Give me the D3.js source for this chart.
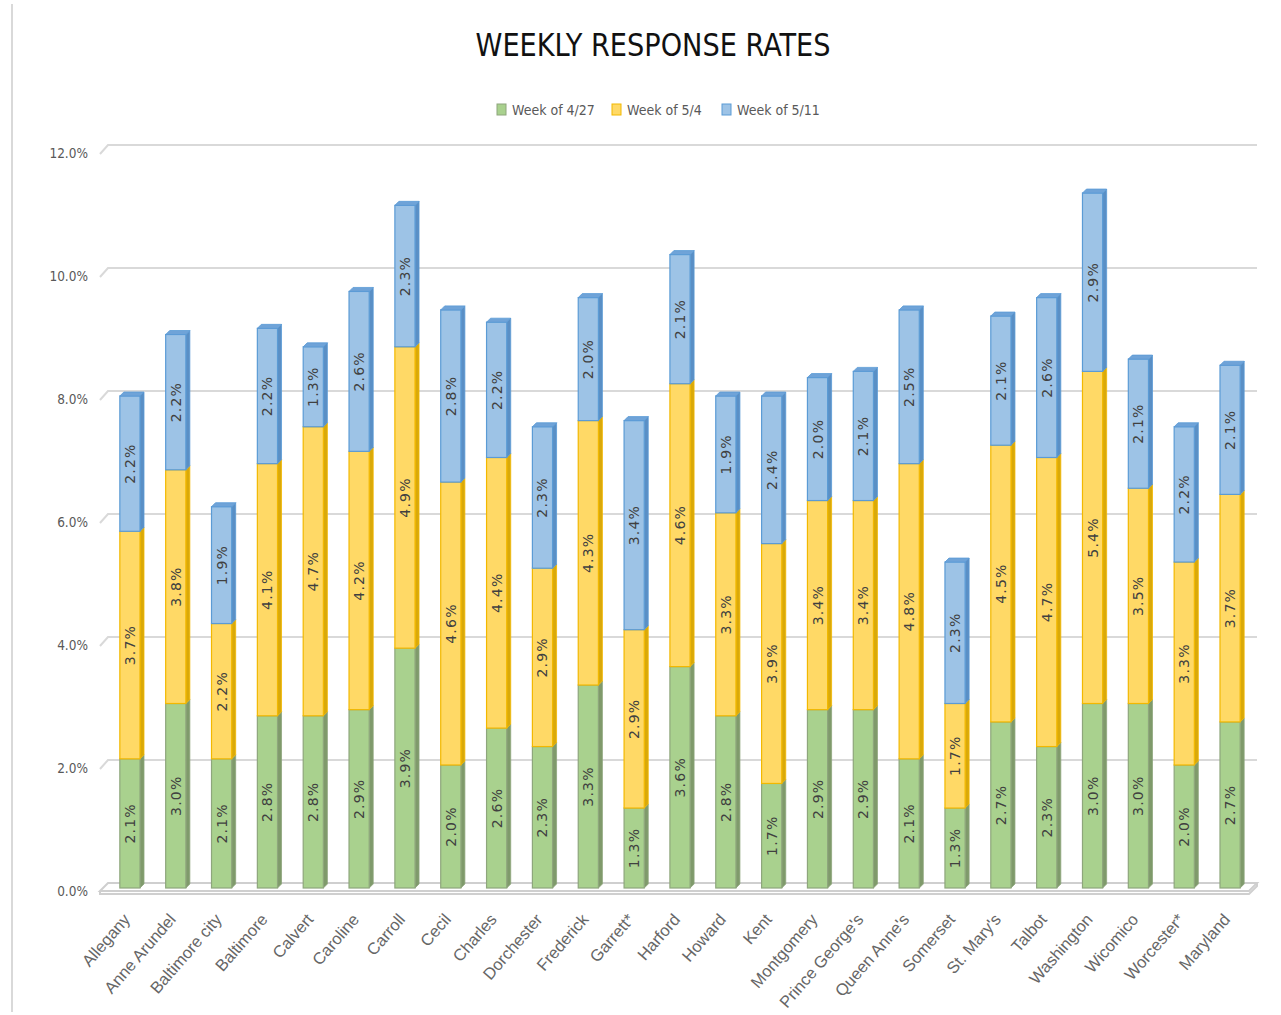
<!DOCTYPE html>
<html>
<head>
<meta charset="utf-8">
<script src="https://cdn.jsdelivr.net/npm/d3@7"></script>
<style>
  body { margin: 0; background: #fff; }
  svg { display: block; }
</style>
</head>
<body>
<svg width="1281" height="1015"></svg>
<script>
// data
var counties = ["Allegany", "Anne Arundel", "Baltimore city", "Baltimore", "Calvert", "Caroline",
  "Carroll", "Cecil", "Charles", "Dorchester", "Frederick", "Garrett*", "Harford", "Howard",
  "Kent", "Montgomery", "Prince George's", "Queen Anne's", "Somerset", "St. Mary's", "Talbot",
  "Washington", "Wicomico", "Worcester*", "Maryland"];
var week427 = [2.1, 3.0, 2.1, 2.8, 2.8, 2.9, 3.9, 2.0, 2.6, 2.3, 3.3, 1.3, 3.6, 2.8, 1.7, 2.9, 2.9, 2.1, 1.3, 2.7, 2.3, 3.0, 3.0, 2.0, 2.7];
var week54  = [3.7, 3.8, 2.2, 4.1, 4.7, 4.2, 4.9, 4.6, 4.4, 2.9, 4.3, 2.9, 4.6, 3.3, 3.9, 3.4, 3.4, 4.8, 1.7, 4.5, 4.7, 5.4, 3.5, 3.3, 3.7];
var week511 = [2.2, 2.2, 1.9, 2.2, 1.3, 2.6, 2.3, 2.8, 2.2, 2.3, 2.0, 3.4, 2.1, 1.9, 2.4, 2.0, 2.1, 2.5, 2.3, 2.1, 2.6, 2.9, 2.1, 2.2, 2.1];
var seriesNames = ["Week of 4/27", "Week of 5/4", "Week of 5/11"];
var yTicks = [0, 2, 4, 6, 8, 10, 12];

var narrow = '"Liberation Sans Narrow", "DejaVu Sans Condensed", sans-serif';
var colors = [
  {face: "#a9d18e", edge: "#8ea67c", side: "#7f9a6b", top: "#98bd80"},
  {face: "#ffd966", edge: "#f2b800", side: "#d9a90a", top: "#f5c84a"},
  {face: "#9dc3e6", edge: "#5b9bd5", side: "#5a8fc5", top: "#6fa3d8"}
];

var svg = d3.select("svg");

// table for the stack
var table = counties.map(function(c, i) {
  return {county: c, s0: week427[i], s1: week54[i], s2: week511[i]};
});
var stack = d3.stack().keys(["s0", "s1", "s2"])(table);

var xScale = d3.scaleBand().domain(counties).range([104, 1250]).paddingInner(0.56).paddingOuter(0.28);
var yScale = d3.scaleLinear().domain([0, 12]).range([891, 153]);

var depth = 8;     // back wall offset
var bd = 4;        // bar depth

// outer left border
svg.append("line")
  .attr("x1", 12).attr("x2", 12).attr("y1", 4).attr("y2", 1012)
  .attr("stroke", "#d9d9d9").attr("stroke-width", 2);

// title
svg.append("text")
  .attr("x", 653).attr("y", 56)
  .attr("text-anchor", "middle")
  .attr("font-family", narrow)
  .attr("font-size", 32)
  .attr("textLength", 355)
  .attr("lengthAdjust", "spacingAndGlyphs")
  .attr("fill", "#111")
  .text("WEEKLY RESPONSE RATES");

// legend
var legX = [497, 612, 722];
var leg = svg.selectAll("g.legend")
  .data(seriesNames)
  .enter().append("g")
  .attr("class", "legend")
  .attr("transform", function(d, i) { return "translate(" + legX[i] + ",104)"; });
leg.append("rect")
  .attr("width", 9).attr("height", 11)
  .attr("fill", function(d, i) { return colors[i].face; })
  .attr("stroke", function(d, i) { return colors[i].edge; });
leg.append("text")
  .attr("x", 15).attr("y", 11)
  .attr("font-family", narrow)
  .attr("font-size", 14)
  .attr("fill", "#595959")
  .text(function(d) { return d; });

// gridlines (back wall)
var x0 = 100, x1 = 1249;
svg.selectAll("path.grid")
  .data(yTicks.filter(function(t) { return t > 0; }))
  .enter().append("path")
  .attr("class", "grid")
  .attr("d", function(t) {
    var y = yScale(t);
    return "M" + x0 + "," + (y + 1) + "L" + (x0 + depth) + "," + (y - depth) + "H" + (x1 + depth);
  })
  .attr("fill", "none")
  .attr("stroke", "#d9d9d9")
  .attr("stroke-width", 2);

// floor
var yf = yScale(0);
svg.append("path")
  .attr("d", "M" + x0 + "," + yf + "L" + (x0 + depth) + "," + (yf - depth) + "H" + (x1 + depth) +
    "L" + x1 + "," + yf + "Z")
  .attr("fill", "#fff").attr("stroke", "#cfcfcf").attr("stroke-width", 2);
svg.append("path")
  .attr("d", "M" + x0 + "," + yf + "V" + (yf + 3) + "H" + x1 + "L" + (x1 + depth) + "," + (yf - depth + 3) + "V" + (yf - depth))
  .attr("fill", "none").attr("stroke", "#cfcfcf").attr("stroke-width", 2);

// y tick labels
svg.selectAll("text.ytick")
  .data(yTicks)
  .enter().append("text")
  .attr("class", "ytick")
  .attr("x", 88)
  .attr("y", function(t) { return yScale(t) + 5; })
  .attr("text-anchor", "end")
  .attr("font-family", narrow)
  .attr("font-size", 13.5)
  .attr("fill", "#595959")
  .text(function(t) { return t.toFixed(1) + "%"; });

// bars
var bw = xScale.bandwidth();
var off = 3;
stack.forEach(function(layer, si) {
  var c = colors[si];
  var g = svg.append("g").attr("class", "series" + si);
  var seg = g.selectAll("g")
    .data(layer)
    .enter().append("g");

  // side face
  seg.append("path")
    .attr("d", function(d) {
      var x = xScale(d.data.county) + off + bw, yt = yScale(d[1]) - off, yb = yScale(d[0]) - off;
      return "M" + x + "," + yt + "l" + bd + "," + (-bd) + "V" + (yb - bd) + "L" + x + "," + yb + "Z";
    })
    .attr("fill", c.side).attr("stroke", c.edge).attr("stroke-width", 0.8);

  // front face
  seg.append("rect")
    .attr("x", function(d) { return xScale(d.data.county) + off; })
    .attr("y", function(d) { return yScale(d[1]) - off; })
    .attr("width", bw)
    .attr("height", function(d) { return yScale(d[0]) - yScale(d[1]); })
    .attr("fill", c.face).attr("stroke", c.edge).attr("stroke-width", 1.2);

  // top face only on the top segment
  if (si === 2) {
    seg.append("path")
      .attr("d", function(d) {
        var x = xScale(d.data.county) + off, yt = yScale(d[1]) - off;
        return "M" + x + "," + yt + "l" + bd + "," + (-bd) + "h" + bw + "l" + (-bd) + "," + bd + "Z";
      })
      .attr("fill", c.top).attr("stroke", c.edge).attr("stroke-width", 0.8);
  }

  // value labels
  seg.append("text")
    .attr("transform", function(d) {
      var cx = xScale(d.data.county) + off + bw / 2;
      var cy = (yScale(d[0]) + yScale(d[1])) / 2 - off;
      return "translate(" + (cx + 5) + "," + cy + ") rotate(-90)";
    })
    .attr("text-anchor", "middle")
    .attr("font-family", '"DejaVu Sans", sans-serif')
    .attr("font-size", 14)
    .attr("letter-spacing", 1.2)
    .attr("fill", "#404040")
    .text(function(d) { return (d[1] - d[0]).toFixed(1) + "%"; });
});

// category labels
svg.selectAll("text.xlab")
  .data(counties)
  .enter().append("text")
  .attr("class", "xlab")
  .attr("transform", function(d) {
    return "translate(" + (xScale(d) + bw / 2 + 4) + ",920) rotate(-49)";
  })
  .attr("text-anchor", "end")
  .attr("font-family", '"Liberation Sans", Arial, sans-serif')
  .attr("font-size", 16.5)
  .attr("fill", "#666")
  .text(function(d) { return d; });
</script>
</body>
</html>
